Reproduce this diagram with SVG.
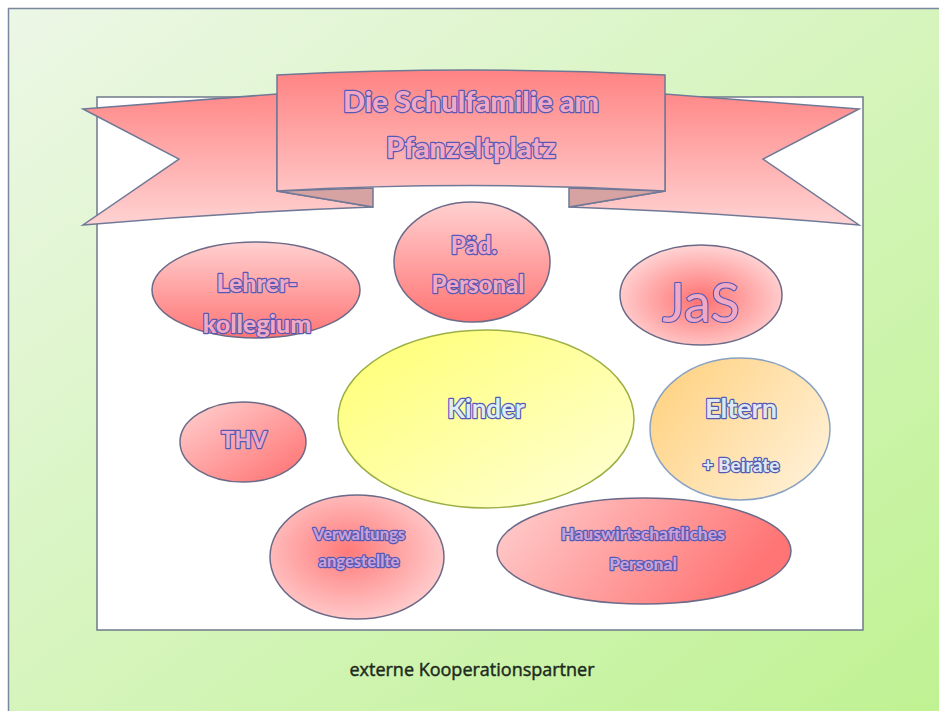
<svg xmlns="http://www.w3.org/2000/svg" width="939" height="711" viewBox="0 0 939 711">
<defs>
<linearGradient id="bg" x1="0" y1="0" x2="1" y2="1">
<stop offset="0" stop-color="#ecf7e6"/>
<stop offset="1" stop-color="#bff292"/>
</linearGradient>
<linearGradient id="panel" gradientUnits="userSpaceOnUse" x1="0" y1="72" x2="0" y2="192">
<stop offset="0" stop-color="#ff8484"/>
<stop offset="1" stop-color="#ffc4c4"/>
</linearGradient>
<linearGradient id="tailg" gradientUnits="userSpaceOnUse" x1="0" y1="95" x2="0" y2="228">
<stop offset="0" stop-color="#ff8a8a"/>
<stop offset="1" stop-color="#ffd4d4"/>
</linearGradient>
<linearGradient id="vdown" x1="0" y1="0" x2="0" y2="1">
<stop offset="0" stop-color="#ffd0d0"/>
<stop offset="1" stop-color="#ff7474"/>
</linearGradient>
<linearGradient id="diag" x1="0" y1="0" x2="1" y2="1">
<stop offset="0" stop-color="#ffd2d2"/>
<stop offset="1" stop-color="#ff6e6e"/>
</linearGradient>
<linearGradient id="horiz" x1="0" y1="0" x2="1" y2="0.3">
<stop offset="0" stop-color="#ffd0d0"/>
<stop offset="1" stop-color="#ff7474"/>
</linearGradient>
<radialGradient id="rad" cx="0.5" cy="0.55" r="0.55">
<stop offset="0" stop-color="#ff7070"/>
<stop offset="1" stop-color="#ffd4d4"/>
</radialGradient>
<radialGradient id="rad2" cx="0.45" cy="0.45" r="0.6">
<stop offset="0" stop-color="#ff7a7a"/>
<stop offset="1" stop-color="#ffcfcf"/>
</radialGradient>
<linearGradient id="yel" x1="0" y1="0" x2="1" y2="1">
<stop offset="0" stop-color="#ffff70"/>
<stop offset="1" stop-color="#ffffd8"/>
</linearGradient>
<linearGradient id="ora" x1="0" y1="0" x2="1" y2="0.6">
<stop offset="0" stop-color="#ffcf7a"/>
<stop offset="1" stop-color="#ffeed0"/>
</linearGradient>
</defs>
<style>
.rib{stroke:#6f7896;stroke-width:1.5;stroke-linejoin:miter}
.node{stroke:#6d6a88;stroke-width:1.5}
.wa{font-family:Lato,"Open Sans",sans-serif;font-weight:900;text-anchor:middle;fill:#f0a8c4;stroke:#5659b4;stroke-width:2.4;paint-order:stroke;stroke-linejoin:round}
.plain{font-family:"Open Sans","Noto Sans",sans-serif;font-size:18px;fill:#1d2a1d;stroke:#1d2a1d;stroke-width:0.45;text-anchor:middle}
</style>
<rect x="8.5" y="8.5" width="940" height="710" fill="url(#bg)" stroke="#7a879f" stroke-width="1.5"/>
<rect id="frame" x="97" y="97" width="766" height="533" fill="#ffffff" stroke="#6f7a8a" stroke-width="1.5"/>
<g id="banner">
<path class="rib" fill="url(#tailg)" d="M83,109 L277,94 L277,191 L373,207 Q230,212 83,225 L179,159 Z"/>
<path class="rib" fill="url(#tailg)" d="M859,109 L665,94 L665,191 L569,207 Q712,212 859,225 L763,159 Z"/>
<path class="rib" fill="#d6a2a2" d="M277,191 L373,188 L373,207 Z"/>
<path class="rib" fill="#d6a2a2" d="M665,191 L569,188 L569,207 Z"/>
<path class="rib" fill="url(#panel)" d="M277,75 Q471,65 665,75 L665,191 Q471,180 277,191 Z"/>
<text class="wa" x="471" y="112" font-size="29">Die Schulfamilie am</text>
<text class="wa" x="471" y="158" font-size="29">Pfanzeltplatz</text>
</g>
<g id="connectors"/>
<g id="lehrerkollegium">
<ellipse class="node" cx="256" cy="290" rx="104" ry="48" fill="url(#vdown)"/>
<text class="wa" x="257" y="292" font-size="25">Lehrer-</text>
<text class="wa" x="257" y="333" font-size="25">kollegium</text>
</g>
<g id="paed-personal">
<ellipse class="node" cx="472" cy="262" rx="78" ry="60" fill="url(#vdown)"/>
<text class="wa" x="474" y="254" font-size="24">Päd.</text>
<text class="wa" x="478" y="293" font-size="24">Personal</text>
</g>
<g id="jas">
<ellipse class="node" cx="701" cy="295" rx="81" ry="50" fill="url(#rad)"/>
<text class="wa" x="701" y="322" font-size="54" style="font-weight:normal;stroke-width:2.2">JaS</text>
</g>
<g id="kinder">
<ellipse cx="486" cy="419" rx="148" ry="89" fill="url(#yel)" stroke="#9cb046" stroke-width="1.5"/>
<text class="wa" x="486" y="418" font-size="26" style="fill:#dfeef0;font-weight:bold">Kinder</text>
</g>
<g id="eltern">
<ellipse cx="740" cy="429" rx="90" ry="71" fill="url(#ora)" stroke="#8aa2c2" stroke-width="1.5"/>
<text class="wa" x="741" y="418" font-size="27" style="fill:#dfe8f0;font-weight:bold">Eltern</text>
<text class="wa" x="741" y="472" font-size="19" style="fill:#dfe8f0">+ Beiräte</text>
</g>
<g id="thv">
<ellipse class="node" cx="243" cy="442" rx="63" ry="40" fill="url(#diag)"/>
<text class="wa" x="244" y="448" font-size="22">THV</text>
</g>
<g id="verwaltung">
<ellipse class="node" cx="357" cy="557" rx="87" ry="62" fill="url(#rad2)"/>
<text class="wa" x="359" y="540" font-size="16.5" style="fill:#c9a0d8">Verwaltungs</text>
<text class="wa" x="359" y="567" font-size="16.5" style="fill:#c9a0d8">angestellte</text>
</g>
<g id="hauswirtschaft">
<ellipse class="node" cx="644" cy="551" rx="147" ry="53" fill="url(#horiz)"/>
<text class="wa" x="643" y="540" font-size="17.5" style="fill:#c9a0d8">Hauswirtschaftliches</text>
<text class="wa" x="643" y="570" font-size="17.5" style="fill:#c9a0d8">Personal</text>
</g>
<text id="extern" class="plain" x="472" y="676">externe Kooperationspartner</text>
</svg>
